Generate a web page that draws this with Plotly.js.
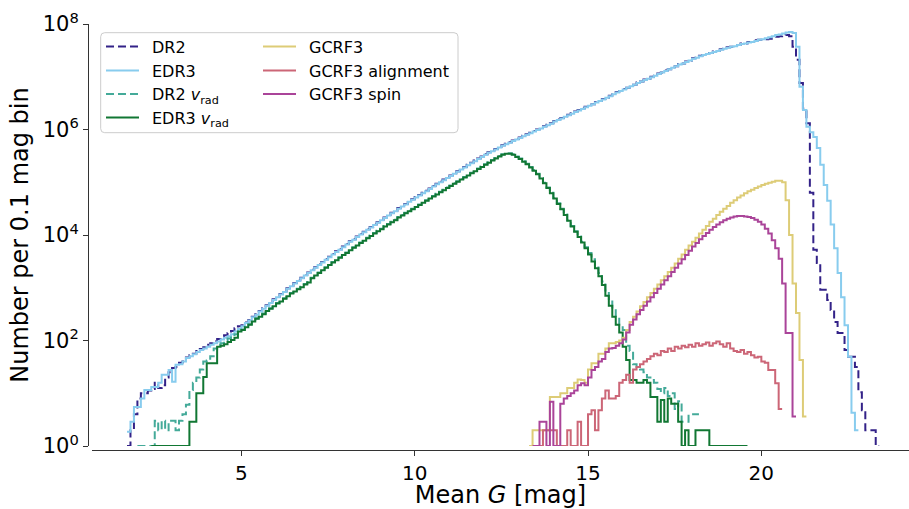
<!DOCTYPE html>
<html><head><meta charset="utf-8">
<script src="https://cdn.plot.ly/plotly-3.0.1.min.js"></script>
<style>html,body{margin:0;padding:0;background:#fff}#chart{width:909px;height:509px}</style>
</head><body><div id="chart"></div>
<script>
// Histograms of mean G magnitude, 0.1 mag bins; values are log10(count per bin)
const BIN_WIDTH = 0.1;

const dr2Start = 1.7;
const dr2Log10 = [
 0, 0.3, 0.6,
 0.9, 1.0, 1.0, 1.05, 1.08, 1.2, 1.1, 1.15, 1.3, 1.4,
 1.48, 1.5, 1.58, 1.6, 1.68, 1.72, 1.75, 1.8, 1.84, 1.87,
 1.92, 1.95, 1.99, 2.03, 2.07, 2.1, 2.14, 2.18, 2.23, 2.27,
 2.29, 2.34, 2.39, 2.45, 2.5, 2.56, 2.61, 2.67, 2.72, 2.78,
 2.83, 2.88, 2.93, 2.99, 3.04, 3.09, 3.14, 3.19, 3.24, 3.29,
 3.34, 3.39, 3.44, 3.49, 3.54, 3.59, 3.64, 3.69, 3.73, 3.78,
 3.83, 3.88, 3.92, 3.97, 4.02, 4.06, 4.11, 4.15, 4.2, 4.24,
 4.29, 4.33, 4.38, 4.42, 4.46, 4.51, 4.55, 4.59, 4.64, 4.68,
 4.72, 4.76, 4.8, 4.84, 4.88, 4.93, 4.97, 5.01, 5.05, 5.09,
 5.13, 5.17, 5.21, 5.25, 5.29, 5.33, 5.37, 5.41, 5.45, 5.49,
 5.53, 5.57, 5.6, 5.63, 5.67, 5.7, 5.73, 5.76, 5.79, 5.82,
 5.85, 5.88, 5.91, 5.94, 5.97, 6.0, 6.03, 6.06, 6.09, 6.12,
 6.16, 6.19, 6.22, 6.25, 6.28, 6.31, 6.34, 6.37, 6.4, 6.43,
 6.46, 6.48, 6.52, 6.54, 6.58, 6.6, 6.64, 6.67, 6.71, 6.73,
 6.77, 6.79, 6.83, 6.85, 6.89, 6.91, 6.95, 6.96, 7.0, 7.02,
 7.06, 7.08, 7.12, 7.14, 7.18, 7.2, 7.24, 7.25, 7.29, 7.31,
 7.35, 7.36, 7.4, 7.41, 7.44, 7.45, 7.48, 7.49, 7.52, 7.53,
 7.56, 7.57, 7.59, 7.6, 7.63, 7.63, 7.66, 7.66, 7.69, 7.7,
 7.7, 7.71, 7.72, 7.74, 7.76, 7.77, 7.78, 7.79, 7.77, 7.57,
 7.32, 6.88, 6.4, 6.12, 4.8, 3.72, 3.47, 2.96, 2.96, 2.77,
 2.58, 2.35, 2.14, 2.14, 1.82, 1.69, 1.69, 1.5, 1.02, 0.68,
 0.3, 0.3, 0.3, 0
];

const edr3Start = 1.7;
const edr3Log10 = [
 0.27, 0.46, 0.74,
 0.74, 0.9, 1.06, 1.06, 1.12, 1.12, 1.2, 1.35, 1.35, 1.44,
 1.22, 1.54, 1.55, 1.6, 1.67, 1.7, 1.74, 1.78, 1.82, 1.85,
 1.88, 1.92, 1.95, 1.98, 2.02, 2.05, 2.08, 2.12, 2.17, 2.22,
 2.27, 2.33, 2.38, 2.44, 2.49, 2.55, 2.6, 2.66, 2.71, 2.77,
 2.82, 2.87, 2.92, 2.98, 3.03, 3.08, 3.13, 3.18, 3.23, 3.28,
 3.33, 3.38, 3.43, 3.48, 3.53, 3.58, 3.63, 3.68, 3.72, 3.77,
 3.82, 3.87, 3.91, 3.96, 4.01, 4.05, 4.1, 4.14, 4.19, 4.23,
 4.28, 4.32, 4.37, 4.41, 4.45, 4.5, 4.54, 4.58, 4.63, 4.67,
 4.71, 4.75, 4.79, 4.83, 4.87, 4.92, 4.96, 5.0, 5.04, 5.08,
 5.12, 5.16, 5.2, 5.24, 5.28, 5.32, 5.36, 5.4, 5.44, 5.48,
 5.52, 5.56, 5.59, 5.62, 5.66, 5.69, 5.72, 5.75, 5.78, 5.81,
 5.84, 5.87, 5.9, 5.93, 5.96, 5.99, 6.02, 6.05, 6.08, 6.11,
 6.15, 6.18, 6.21, 6.24, 6.27, 6.3, 6.33, 6.36, 6.39, 6.42,
 6.45, 6.48, 6.51, 6.54, 6.57, 6.6, 6.63, 6.67, 6.7, 6.73,
 6.76, 6.79, 6.82, 6.85, 6.88, 6.91, 6.94, 6.96, 6.99, 7.02,
 7.05, 7.08, 7.11, 7.14, 7.17, 7.2, 7.23, 7.25, 7.28, 7.31,
 7.34, 7.36, 7.39, 7.41, 7.43, 7.45, 7.47, 7.49, 7.51, 7.53,
 7.55, 7.57, 7.58, 7.6, 7.62, 7.63, 7.65, 7.66, 7.68, 7.7,
 7.71, 7.73, 7.75, 7.77, 7.79, 7.8, 7.82, 7.84, 7.85, 7.83,
 7.57, 6.81, 6.37, 6.05, 5.95, 5.86, 5.65, 5.33, 4.95, 4.65,
 4.2, 3.75, 3.28, 2.82, 2.29, 1.69, 0.63, 0.3
];

const dr2VradStart = 2.0;
const dr2VradLog10 = [
 0, 0, 0, 0, 0, 0.48, 0.3, 0.48, 0.3, 0.48,
 0.48, 0.3, 0.48, 0.6, 0.78, 1.06, 1.2, 1.3, 1.45, 1.6,
 1.62, 1.7, 1.85, 1.92, 1.95, 2.0, 2.04, 2.08, 2.12, 2.19,
 2.21, 2.26, 2.31, 2.37, 2.42, 2.46, 2.51, 2.57, 2.61, 2.66,
 2.71, 2.75, 2.8, 2.85, 2.9, 2.94, 2.98, 3.02, 3.07, 3.11,
 3.19, 3.24, 3.29, 3.34, 3.39, 3.44, 3.49, 3.53, 3.58, 3.63,
 3.67, 3.72, 3.77, 3.81, 3.86, 3.9, 3.95, 3.99, 4.04, 4.08,
 4.12, 4.17, 4.21, 4.25, 4.29, 4.34, 4.38, 4.42, 4.46, 4.5,
 4.54, 4.58, 4.62, 4.66, 4.7, 4.74, 4.78, 4.82, 4.86, 4.9,
 4.94, 4.98, 5.02, 5.06, 5.1, 5.14, 5.18, 5.22, 5.26, 5.3,
 5.34, 5.38, 5.42, 5.46, 5.5, 5.53, 5.55, 5.55, 5.53, 5.49,
 5.45, 5.4, 5.35, 5.29, 5.23, 5.16, 5.08, 4.99, 4.9, 4.8,
 4.7, 4.6, 4.5, 4.39, 4.28, 4.17, 4.07, 3.97, 3.87, 3.77,
 3.66, 3.54, 3.42, 3.28, 3.12, 2.95, 2.76, 2.6, 2.45, 2.3,
 2.2, 1.9, 1.8, 1.55, 1.5, 1.45, 1.4, 1.3, 1.25, 1.2,
 1.08, 1.0, 1.1, 0.95, 1.0, 0.7, 0.85, 0.46, 0.46, 0.6,
 0.6, 0.6
];

const edr3VradStart = 2.4;
const edr3VradLog10 = [
 0, 0, 0, 0, 0, 0,
 0, 0, 0, 0, 0, 0.46, 0.46, 1.0, 1.0, 1.31,
 1.57, 1.57, 1.57, 1.88, 1.9, 1.93, 1.97, 2.01, 2.05, 2.17,
 2.2, 2.25, 2.3, 2.36, 2.41, 2.45, 2.5, 2.56, 2.6, 2.65,
 2.7, 2.74, 2.79, 2.84, 2.89, 2.93, 2.97, 3.01, 3.06, 3.1,
 3.18, 3.23, 3.28, 3.33, 3.38, 3.43, 3.48, 3.52, 3.57, 3.62,
 3.66, 3.71, 3.76, 3.8, 3.85, 3.89, 3.94, 3.98, 4.03, 4.07,
 4.11, 4.16, 4.2, 4.24, 4.28, 4.33, 4.37, 4.41, 4.45, 4.49,
 4.53, 4.57, 4.61, 4.65, 4.69, 4.73, 4.77, 4.81, 4.85, 4.89,
 4.93, 4.97, 5.01, 5.05, 5.09, 5.13, 5.17, 5.21, 5.25, 5.29,
 5.33, 5.37, 5.41, 5.45, 5.49, 5.52, 5.54, 5.54, 5.52, 5.48,
 5.44, 5.39, 5.34, 5.28, 5.22, 5.15, 5.07, 4.98, 4.89, 4.79,
 4.69, 4.59, 4.49, 4.38, 4.27, 4.16, 4.06, 3.96, 3.86, 3.75,
 3.63, 3.5, 3.37, 3.22, 3.05, 2.85, 2.66, 2.45, 2.3, 2.15,
 1.88, 1.63, 1.25, 1.25, 1.2, 1.2, 1.25, 1.2, 0.93, 0.93,
 0.46, 0.87, 0.46, 0.9, 0.8, 0.8, 0.46, 0, 0.3, 0,
 0, 0.3, 0.3, 0.3, 0.3, 0, 0, 0, 0, 0,
 0, 0, 0, 0, 0, 0
];

const gcrf3Start = 13.3;
const gcrf3Log10 = [
 0, 0.3, 0.3, 0.3, 0.3, 0.3, 0.93,
 0.93, 0.93, 1.0, 1.0, 1.1, 1.1, 1.2, 1.26, 1.25, 1.2,
 1.45, 1.57, 1.57, 1.75, 1.75, 1.85, 1.95, 1.95, 1.97, 2.0,
 2.05, 2.2, 2.35, 2.45, 2.55, 2.65, 2.73, 2.82, 2.9, 2.98,
 3.06, 3.14, 3.22, 3.3, 3.38, 3.46, 3.55, 3.63, 3.72, 3.8,
 3.87, 3.95, 4.03, 4.1, 4.17, 4.25, 4.31, 4.38, 4.44, 4.5,
 4.55, 4.61, 4.66, 4.71, 4.75, 4.79, 4.83, 4.86, 4.89, 4.92,
 4.95, 4.97, 4.99, 5.01, 5.03, 5.03, 5.0, 4.66, 4.0, 3.08,
 2.52, 1.63, 0.56
];

const alignStart = 13.5;
const alignLog10 = [
 0, 0, 0.3, 0.3, 0.3,
 0.3, 0, 0, 0, 0.3, 0, 0, 0.46, 0, 0,
 0.6, 0.68, 0.3, 0.68, 0.9, 1.05, 0.9, 0.9, 0.95, 1.2,
 1.25, 1.35, 1.2, 1.45, 1.5, 1.55, 1.6, 1.65, 1.7, 1.75,
 1.72, 1.8, 1.78, 1.85, 1.8, 1.88, 1.85, 1.9, 1.87, 1.92,
 1.88, 1.95, 1.9, 1.93, 1.96, 1.9, 1.95, 1.98, 1.93, 1.88,
 1.95, 1.85, 1.8, 1.78, 1.82, 1.75, 1.78, 1.72, 1.68, 1.69,
 1.6, 1.58, 1.44, 1.44, 1.19, 0.7
];

const spinStart = 13.4;
const spinLog10 = [
 0, 0, 0.46, 0.46, 0, 0.84,
 0, 0, 0.8, 0.9, 0.95, 1.0, 1.05, 1.15, 1.19, 1.15,
 1.3, 1.44, 1.5, 1.6, 1.65, 1.78, 1.85, 1.86, 1.9, 1.95,
 2.02, 2.15, 2.3, 2.4, 2.5, 2.58, 2.66, 2.74, 2.82, 2.9,
 2.98, 3.06, 3.14, 3.22, 3.3, 3.38, 3.46, 3.54, 3.62, 3.7,
 3.78, 3.85, 3.92, 3.98, 4.04, 4.1, 4.15, 4.2, 4.24, 4.28,
 4.31, 4.33, 4.35, 4.36, 4.36, 4.35, 4.34, 4.32, 4.29, 4.25,
 4.2, 4.12, 4.03, 3.9, 3.75, 3.55, 3.08, 2.14, 2.14, 0.56
];

const legendLabels = ['DR2', 'EDR3', 'DR2 <i>v</i><sub>rad</sub>', 'EDR3 <i>v</i><sub>rad</sub>',
                      'GCRF3', 'GCRF3 alignment', 'GCRF3 spin'];
const xTickVals = [5, 10, 15, 20];
const yTickVals = [1, 1e2, 1e4, 1e6, 1e8];
const yTickText = ['10<sup>0</sup>', '10<sup>2</sup>', '10<sup>4</sup>', '10<sup>6</sup>', '10<sup>8</sup>'];

function steps(start, logs) {
  const x = [], y = [];
  for (let i = 0; i < logs.length; i++) {
    x.push(+(start + i * BIN_WIDTH).toFixed(2));
    y.push(Math.pow(10, logs[i]));
  }
  x.push(+(start + logs.length * BIN_WIDTH).toFixed(2));
  y.push(Math.pow(10, logs[logs.length - 1]));
  return {x, y};
}

// plot geometry helpers (pixels -> paper)
const W = 909, H = 509, ML = 88, MR = 0, MT = 24, MB = 59;
const PW = W - ML - MR, PH = H - MT - MB;
const px2x = p => (p - ML) / PW;
const px2y = p => (H - MB - p) / PH;

// legend slots: [left px, row-centre px]
const legendSlots = [[101, 46], [101, 70], [101, 93.5], [101, 117], [258, 46], [258, 70], [258, 93.5]];

const series = [
  {s: dr2Start, v: dr2Log10, c: '#332288', dash: '8px,4px'},
  {s: edr3Start, v: edr3Log10, c: '#88CCEE', dash: 'solid'},
  {s: dr2VradStart, v: dr2VradLog10, c: '#44AA99', dash: '8px,4px'},
  {s: edr3VradStart, v: edr3VradLog10, c: '#117733', dash: 'solid'},
  {s: gcrf3Start, v: gcrf3Log10, c: '#DDCC77', dash: 'solid'},
  {s: alignStart, v: alignLog10, c: '#CC6677', dash: 'solid'},
  {s: spinStart, v: spinLog10, c: '#AA4499', dash: 'solid'}
];

const legendId = i => (i === 0 ? 'legend' : 'legend' + (i + 1));

const traces = series.map((d, i) => {
  const st = steps(d.s, d.v);
  return {
    type: 'scatter', mode: 'lines', x: st.x, y: st.y, name: '\u2002' + legendLabels[i],
    line: {color: d.c, width: 2, shape: 'hv', dash: d.dash},
    legend: legendId(i), hoverinfo: 'skip'
  };
});

function roundRect(x0, y0, x1, y1, r) {
  const X = px2x, Y = px2y;
  return `M${X(x0 + r)},${Y(y0)} L${X(x1 - r)},${Y(y0)} Q${X(x1)},${Y(y0)} ${X(x1)},${Y(y0 + r)} ` +
         `L${X(x1)},${Y(y1 - r)} Q${X(x1)},${Y(y1)} ${X(x1 - r)},${Y(y1)} L${X(x0 + r)},${Y(y1)} ` +
         `Q${X(x0)},${Y(y1)} ${X(x0)},${Y(y1 - r)} L${X(x0)},${Y(y0 + r)} Q${X(x0)},${Y(y0)} ${X(x0 + r)},${Y(y0)} Z`;
}

const font = 'DejaVu Sans, Liberation Sans, sans-serif';

const layout = {
  width: W, height: H,
  margin: {l: ML, r: MR, t: MT, b: MB, pad: 0},
  paper_bgcolor: '#fff', plot_bgcolor: '#fff',
  font: {family: font, color: '#000'},
  showlegend: true,
  xaxis: {
    domain: [4 / PW, 1], anchor: 'free', position: 0,
    range: [0.69, 24.26], tickvals: xTickVals, ticks: 'outside', ticklen: 5, tickwidth: 1,
    tickcolor: '#333', showline: true, linecolor: '#333', linewidth: 1, showgrid: false, zeroline: false,
    tickfont: {size: 20, family: font, color: '#000'},
    title: {text: 'Mean <i>G</i> [mag]', font: {size: 24, family: font, color: '#000'}, standoff: 9}
  },
  yaxis: {
    domain: [4 / PH, 1], anchor: 'free', position: 0, type: 'log',
    range: [0, 8], tickvals: yTickVals, ticktext: yTickText, ticks: 'outside', ticklen: 5, tickwidth: 1,
    tickcolor: '#333', showline: true, linecolor: '#333', linewidth: 1, showgrid: false, zeroline: false,
    tickfont: {size: 21, family: font, color: '#000'},
    title: {text: 'Number per 0.1 mag bin', font: {size: 24, family: font, color: '#000'}, standoff: 6}
  },
  shapes: [{
    type: 'path', xref: 'paper', yref: 'paper', layer: 'below',
    path: roundRect(100.7, 32.7, 458, 132.7, 4),
    line: {color: '#cccccc', width: 1}, fillcolor: 'rgba(255,255,255,0.8)'
  }]
};

legendSlots.forEach((slot, i) => {
  layout[legendId(i)] = {
    x: px2x(slot[0]), y: px2y(slot[1] - 16.5), xanchor: 'left', yanchor: 'top',
    bgcolor: 'rgba(0,0,0,0)', borderwidth: 0, itemwidth: 33,
    font: {family: font, size: 16, color: '#000'}
  };
});

Plotly.newPlot('chart', traces, layout, {displayModeBar: false, staticPlot: true});
</script></body></html>
